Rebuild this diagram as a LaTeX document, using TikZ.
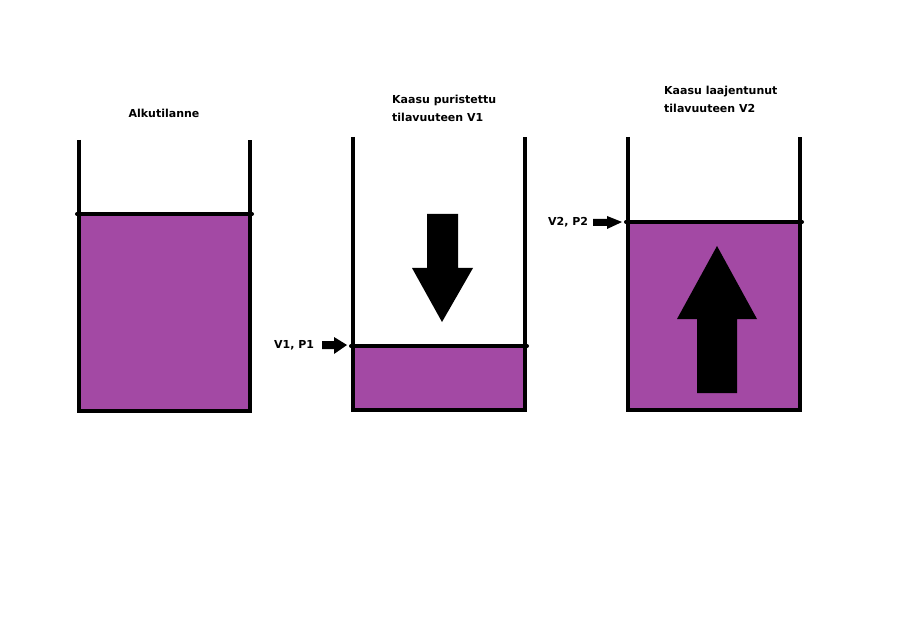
\documentclass[tikz,border=0pt]{standalone}
\usepackage{fontspec}
\setmainfont{DejaVu Sans}
\definecolor{gas}{HTML}{A349A4}
\begin{document}
\begin{tikzpicture}[x=1pt,y=-1pt,
  wall/.style={line width=4pt},
  gasline/.style={line width=4pt,line cap=round},
  gasfill/.style={fill=gas},
  blockarrow/.style={fill=black},
  lbl/.style={font=\bfseries\fontsize{11}{18}\selectfont,inner sep=0pt,align=left}]
\useasboundingbox (0,0) rectangle (915,644);
% container 1
\fill[gasfill] (79,214) rectangle (250,411);
\draw[wall] (79,140) -- (79,411) -- (250,411) -- (250,140);
\draw[gasline] (77,214) -- (252,214);
\node[lbl,anchor=center] (t1) at (164,113) {Alkutilanne};
% container 2
\fill[gasfill] (353,346) rectangle (525,410);
\draw[wall] (353,137) -- (353,410) -- (525,410) -- (525,137);
\draw[gasline] (351,346) -- (527,346);
\node[lbl,anchor=north west] (t2) at (392,94.5) {Kaasu puristettu\\tilavuuteen V1};
\fill[blockarrow] (427,214) -- (458,214) -- (458,268) -- (473,268) -- (442,322) -- (412,268) -- (427,268) -- cycle;
\node[lbl,anchor=west] (v1) at (274,345) {V1, P1};
\fill[blockarrow] (322,341) -- (334,341) -- (334,337) -- (347,345) -- (334,354) -- (334,349) -- (322,349) -- cycle;
% container 3
\fill[gasfill] (628,222) rectangle (800,410);
\fill[blockarrow] (697,393) -- (737,393) -- (737,319) -- (757,319) -- (717,246) -- (677,319) -- (697,319) -- cycle;
\draw[wall] (628,137) -- (628,410) -- (800,410) -- (800,137);
\draw[gasline] (626,222) -- (802,222);
\node[lbl,anchor=north west] (t3) at (664,86) {Kaasu laajentunut\\tilavuuteen V2};
\node[lbl,anchor=west] (v2) at (548,222) {V2, P2};
\fill[blockarrow] (593,219) -- (607,219) -- (607,216) -- (622,222) -- (607,229) -- (607,226) -- (593,226) -- cycle;
\end{tikzpicture}
\end{document}
